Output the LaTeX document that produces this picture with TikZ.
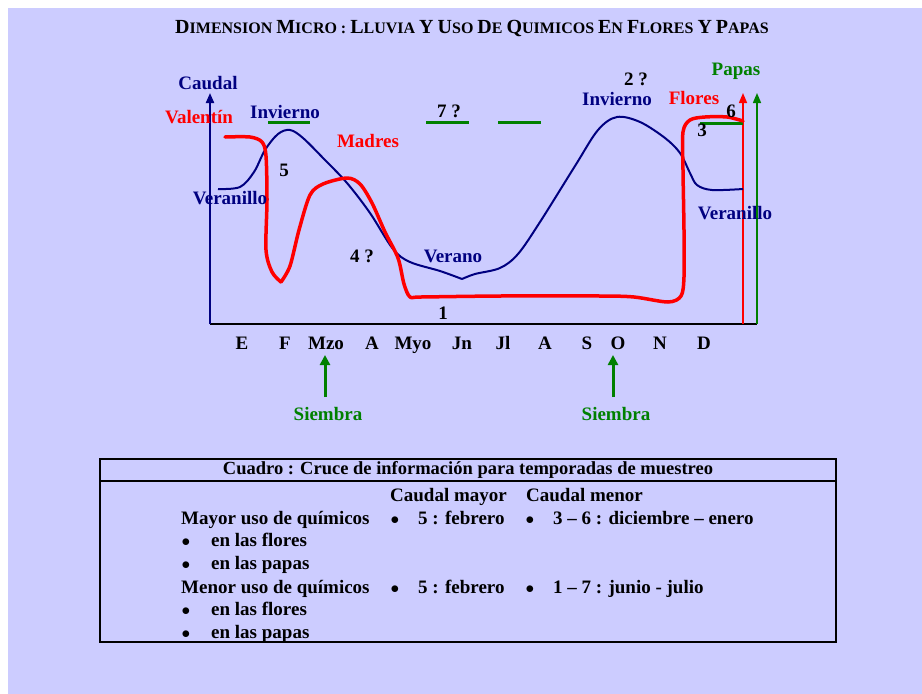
\documentclass[tikz,border=0pt]{standalone}
\usepackage{fontspec}
\setmainfont{Liberation Serif}
\usetikzlibrary{arrows.meta}
\definecolor{bg}{HTML}{CCCCFF}
\definecolor{navy}{HTML}{000080}
\definecolor{grn}{HTML}{008000}
\definecolor{rd}{HTML}{FF0000}
\newcommand\BigC[1]{{\fontsize{20}{20}\selectfont #1}}
\newcommand\blt{\ensuremath{\bullet}}
\begin{document}
\begin{tikzpicture}[x=1pt,y=-1pt,
  lbl/.style={font=\fontsize{19}{21}\selectfont\bfseries, inner sep=0pt, text height=12.5pt, text depth=0pt, anchor=center},
  tl/.style={font=\fontsize{19}{21}\selectfont\bfseries, inner sep=0pt, text height=12.5pt, text depth=0pt, anchor=west},
  navyline/.style={draw=navy, line width=2pt},
  redline/.style={draw=rd, line width=3.5pt, line cap=round, line join=round},
  seg/.style={draw=grn, line width=3pt},
  tip/.style={-{Triangle[width=8pt,length=10pt]}}
]
\useasboundingbox (0,0) rectangle (922,694);
\fill[bg] (8,8) rectangle (922,694);
% title
\node[inner sep=0pt, font=\fontsize{16}{18}\selectfont\bfseries] (title) at (472,28)
 {\BigC{D}IMENSION \BigC{M}ICRO : \BigC{L}LUVIA \BigC{Y} \BigC{U}SO \BigC{D}E \BigC{Q}UIMICOS \BigC{E}N \BigC{F}LORES \BigC{Y} \BigC{P}APAS};
% axes
\coordinate (o) at (210,324);
\coordinate (ytop) at (210,93);
\coordinate (xend) at (757,324);
\coordinate (rb) at (743,324);
\coordinate (rt) at (743,93);
\coordinate (gb) at (757,324);
\coordinate (gt) at (757,93);
\draw[black, line width=2pt] (o) -- (xend);
\draw[navyline, tip, navy] (o) -- (ytop);
\draw[rd, line width=1.5pt, tip] (rb) -- (rt);
\draw[grn, line width=1.5pt, tip] (gb) -- (gt);
% green segments
\coordinate (g1a) at (268,122); \coordinate (g1b) at (310,122);
\coordinate (g2a) at (426,122); \coordinate (g2b) at (469,122);
\coordinate (g3a) at (498,122); \coordinate (g3b) at (541,122);
\coordinate (g4a) at (700,123); \coordinate (g4b) at (743,123);
\draw[seg] (g1a) -- (g1b);
\draw[seg] (g2a) -- (g2b);
\draw[seg] (g3a) -- (g3b);
\draw[seg] (g4a) -- (g4b);
% blue curve
\draw[navyline, line join=round] plot[smooth, tension=0.55] coordinates {(218,189) (240,187) (254,172) (265,150) (278,134) (290,130) (303,138) (325,160) (347,183) (370,213) (393,249) (410,262) (440,271) (462,279)};
\draw[navyline, line join=round] plot[smooth, tension=0.55] coordinates {(462,279) (475,274) (500,268) (518,254) (540,222) (575,166) (598,130) (617,117) (640,122) (665,138) (680,153) (690,173) (697,185) (712,190) (743,189)};
% red curve
\draw[redline] plot[smooth, tension=0.5] coordinates {(225,137) (250,137) (262,142) (266,156) (267,200) (266,250) (272,272) (281,282)};
\draw[redline] plot[smooth, tension=0.5] coordinates {(281,282) (290,266) (299,230) (310,195) (323,184) (347,178) (360,184) (372,203) (385,232) (398,258) (404,284) (410,297) (421,297) (500,296) (600,296) (634,297) (668,302) (681,296) (684,277) (684,230) (683,170) (683,132) (690,120) (705,117) (727,117) (743,121)};
% labels
\node[lbl, navy] (caudal) at (208,83) {Caudal};
\node[lbl, rd] (valentin) at (199,117) {Valentín};
\node[lbl, navy] (inv1) at (285,112) {Invierno};
\node[lbl, rd] (madres) at (368,141) {Madres};
\node[lbl] (n5) at (284,170) {5};
\node[lbl, navy] (ver1) at (230,198) {Veranillo};
\node[lbl] (n4) at (362,256) {4 ?};
\node[lbl, navy] (verano) at (453,256) {Verano};
\node[lbl] (n1) at (443,313) {1};
\node[lbl] (n7) at (449,111) {7 ?};
\node[lbl] (n2) at (636,79) {2 ?};
\node[lbl, navy] (inv2) at (617,99) {Invierno};
\node[lbl, rd] (flores) at (694,98) {Flores};
\node[lbl, grn] (papas) at (736,69) {Papas};
\node[lbl] (n6) at (731,111) {6};
\node[lbl] (n3) at (702,130) {3};
\node[lbl, navy] (ver2) at (735,213) {Veranillo};
% months
\foreach \m/\x [count=\i] in {E/242,F/285,Mzo/326,A/372,Myo/413,Jn/462,Jl/503,A/545,S/587,O/618,N/660,D/704}
  \node[lbl] (m\i) at (\x,343) {\m};
% siembra
\node[lbl, grn] (s1) at (328,414) {Siembra};
\node[lbl, grn] (s2) at (616,414) {Siembra};
\coordinate (s1b) at (325,397); \coordinate (s1t) at (325,355);
\coordinate (s2b) at (613,397); \coordinate (s2t) at (613,355);
\draw[grn, line width=3pt, -{Triangle[width=10pt,length=10pt]}] (s1b) -- (s1t);
\draw[grn, line width=3pt, -{Triangle[width=10pt,length=10pt]}] (s2b) -- (s2t);
% table
\draw[black, line width=1.5pt] (100,459) rectangle (836,642);
\draw[black, line width=1.5pt] (100,481) -- (836,481);
\node[inner sep=0pt, font=\fontsize{18.5}{20}\selectfont\bfseries] (thead) at (468,470) {Cuadro : Cruce de información para temporadas de muestreo};
\node[tl] (cmay) at (390,495) {Caudal mayor};
\node[tl] (cmen) at (526,495) {Caudal menor};
\node[tl] (mayor) at (181,518) {Mayor uso de químicos};
\node[lbl] (b1) at (395,518) {\blt};
\node[tl] (t1) at (418,518) {5 : febrero};
\node[lbl] (b2) at (530,518) {\blt};
\node[tl] (t2) at (553,518) {3 – 6 : diciembre – enero};
\node[lbl] (b3) at (186,540) {\blt};
\node[tl] (t3) at (211,540) {en las flores};
\node[lbl] (b4) at (186,563) {\blt};
\node[tl] (t4) at (211,563) {en las papas};
\node[tl] (menor) at (181,587) {Menor uso de químicos};
\node[lbl] (b5) at (395,587) {\blt};
\node[tl] (t5) at (418,587) {5 : febrero};
\node[lbl] (b6) at (530,587) {\blt};
\node[tl] (t6) at (553,587) {1 – 7 : junio - julio};
\node[lbl] (b7) at (186,609) {\blt};
\node[tl] (t7) at (211,609) {en las flores};
\node[lbl] (b8) at (186,632) {\blt};
\node[tl] (t8) at (211,632) {en las papas};
\end{tikzpicture}
\end{document}
